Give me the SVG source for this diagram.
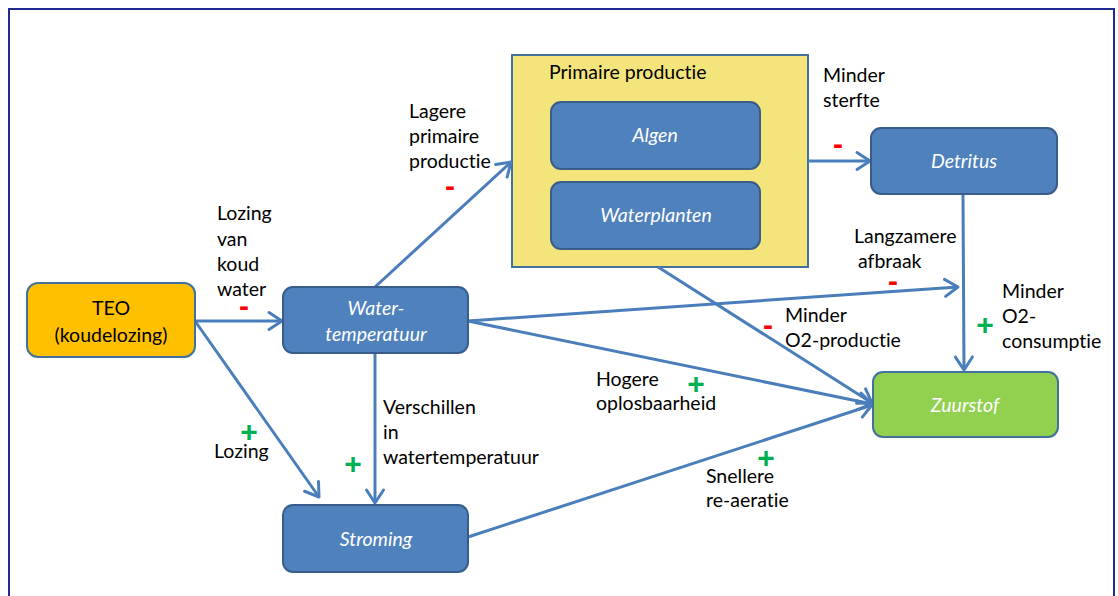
<svg xmlns="http://www.w3.org/2000/svg" width="1118" height="596" viewBox="0 0 1118 596">
  <defs>
    <marker id="open-arrow" markerUnits="userSpaceOnUse" markerWidth="20" markerHeight="20" refX="15" refY="10" orient="auto" overflow="visible">
      <path d="M2,1.5 L15,10 L2,18.5" fill="none" stroke="#4A7EBB" stroke-width="3" stroke-linecap="round" stroke-linejoin="round"/>
    </marker>
  </defs>
  <style>
    text { font-variant-ligatures: none; font-feature-settings: "liga" 0, "dlig" 0; }
    .frame { fill: #FFFFFF; stroke: #1F2A90; stroke-width: 2; }
    .box { fill: #4F81BD; stroke: #385D8A; stroke-width: 2; }
    .teo { fill: #FFC000; stroke: #41719C; stroke-width: 2; }
    .green { fill: #92D050; stroke: #41719C; stroke-width: 2; }
    .group-box { fill: #F4E47C; stroke: #41719C; stroke-width: 2; }
    .node-text { font-family: Lato, "Liberation Sans", sans-serif; font-size: 19.5px; font-style: italic; fill: #FFFFFF; text-anchor: middle; }
    .teo-text { font-family: Lato, "Liberation Sans", sans-serif; font-size: 19.5px; fill: #000000; text-anchor: middle; }
    .label { font-family: Lato, "Liberation Sans", sans-serif; font-size: 19.5px; fill: #000000; }
    .minus { font-family: "Liberation Sans", sans-serif; font-size: 30px; font-weight: bold; fill: #FF0000; text-anchor: middle; }
    .plus { font-family: "Liberation Sans", sans-serif; font-size: 30px; font-weight: bold; fill: #00B050; text-anchor: middle; }
    .conn { fill: none; stroke: #4A7EBB; stroke-width: 3; }
    .arrow { marker-end: url(#open-arrow); }
  </style>

  <!-- outer frame -->
  <rect class="frame" x="9" y="9" width="1105" height="620"/>

  <!-- primary production container -->
  <g id="primaire-productie">
    <rect class="group-box" x="512" y="55" width="296" height="212"/>
    <text class="label" x="549" y="79">Primaire productie</text>
  </g>

  <!-- connectors -->
  <g id="connectors">
    <line class="conn arrow" x1="195" y1="321" x2="282" y2="321"/>
    <line class="conn arrow" x1="195" y1="321" x2="319" y2="497"/>
    <line class="conn arrow" x1="375" y1="287" x2="511" y2="162"/>
    <line class="conn arrow" x1="375" y1="353" x2="375" y2="503"/>
    <line class="conn arrow" x1="468" y1="321" x2="958" y2="287"/>
    <line class="conn arrow" x1="468" y1="321" x2="872" y2="404"/>
    <line class="conn arrow" x1="468" y1="537" x2="872" y2="405"/>
    <line class="conn arrow" x1="658" y1="267" x2="872" y2="403"/>
    <line class="conn arrow" x1="808" y1="161" x2="870" y2="161"/>
    <line class="conn arrow" x1="963" y1="194" x2="964" y2="370"/>
  </g>

  <!-- nodes -->
  <g id="teo">
    <rect class="teo" x="27" y="283" width="168" height="74" rx="11"/>
    <text class="teo-text" x="111" y="315">TEO</text>
    <text class="teo-text" x="111" y="342">(koudelozing)</text>
  </g>
  <g id="watertemperatuur">
    <rect class="box" x="283" y="287" width="185" height="66" rx="10"/>
    <text class="node-text" x="376" y="315">Water-</text>
    <text class="node-text" x="376" y="341">temperatuur</text>
  </g>
  <g id="stroming">
    <rect class="box" x="283" y="505" width="185" height="67" rx="10"/>
    <text class="node-text" x="376" y="546">Stroming</text>
  </g>
  <g id="algen">
    <rect class="box" x="551" y="102" width="209" height="67" rx="10"/>
    <text class="node-text" x="655" y="142">Algen</text>
  </g>
  <g id="waterplanten">
    <rect class="box" x="551" y="182" width="209" height="67" rx="10"/>
    <text class="node-text" x="656" y="222">Waterplanten</text>
  </g>
  <g id="detritus">
    <rect class="box" x="871" y="128" width="186" height="66" rx="10"/>
    <text class="node-text" x="964" y="168">Detritus</text>
  </g>
  <g id="zuurstof">
    <rect class="green" x="873" y="372" width="185" height="65" rx="10"/>
    <text class="node-text" x="965" y="412">Zuurstof</text>
  </g>

  <!-- connector labels -->
  <g id="labels">
    <text class="label" x="217" y="220">Lozing</text>
    <text class="label" x="217" y="246">van</text>
    <text class="label" x="217" y="271">koud</text>
    <text class="label" x="217" y="296">water</text>
    <text class="minus" x="244" y="316">-</text>

    <text class="label" x="409" y="118">Lagere</text>
    <text class="label" x="409" y="143">primaire</text>
    <text class="label" x="409" y="168">productie</text>
    <text class="minus" x="450" y="196">-</text>

    <text class="label" x="823" y="82">Minder</text>
    <text class="label" x="823" y="107">sterfte</text>
    <text class="minus" x="838" y="154">-</text>

    <text class="label" x="854" y="243">Langzamere</text>
    <text class="label" x="858" y="268">afbraak</text>
    <text class="minus" x="893" y="291">-</text>

    <text class="label" x="1002" y="298">Minder</text>
    <text class="label" x="1002" y="323">O2-</text>
    <text class="label" x="1002" y="348">consumptie</text>
    <text class="plus" x="985" y="335">+</text>

    <text class="label" x="785" y="322">Minder</text>
    <text class="label" x="785" y="347">O2-productie</text>
    <text class="minus" x="768" y="335">-</text>

    <text class="label" x="596" y="386">Hogere</text>
    <text class="label" x="596" y="410">oplosbaarheid</text>
    <text class="plus" x="696" y="394">+</text>

    <text class="label" x="706" y="483">Snellere</text>
    <text class="label" x="706" y="507">re-aeratie</text>
    <text class="plus" x="766" y="468">+</text>

    <text class="label" x="383" y="414">Verschillen</text>
    <text class="label" x="383" y="439">in</text>
    <text class="label" x="383" y="464">watertemperatuur</text>
    <text class="plus" x="353" y="474">+</text>

    <text class="plus" x="249" y="442">+</text>
    <text class="label" x="214" y="458">Lozing</text>
  </g>
</svg>
